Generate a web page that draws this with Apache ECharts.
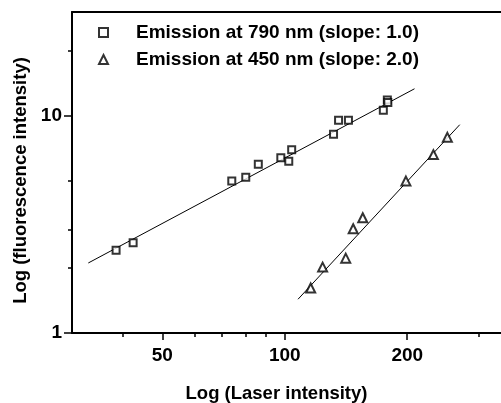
<!DOCTYPE html>
<html>
<head>
<meta charset="utf-8">
<script src="https://cdn.jsdelivr.net/npm/echarts@6/dist/echarts.min.js"></script>
<style>
  html, body { margin: 0; padding: 0; background: #fff; }
  #main { width: 501px; height: 403px; }
</style>
</head>
<body>
<div id="main"></div>
<script>
// Emission at 790 nm (squares) - [laser, fluorescence]
var em790 = [
  [38.5, 2.40], [42.4, 2.60], [74.1, 5.00], [80.2, 5.21], [86.1, 5.98],
  [97.8, 6.40], [102.3, 6.17], [104.0, 6.97], [131.8, 8.21], [135.6, 9.52],
  [143.4, 9.52], [174.7, 10.6], [178.7, 11.8], [179.2, 11.5]
];
// Emission at 450 nm (triangles)
var em450 = [
  [115.8, 1.61], [123.9, 2.01], [141.2, 2.21], [147.3, 3.02], [155.5, 3.39],
  [198.5, 5.00], [231.9, 6.62], [251.0, 7.95]
];
// fitted lines (end points)
var fit790 = [[32.9, 2.10], [208.4, 13.3]];
var fit450 = [[107.8, 1.43], [269.2, 9.09]];

var xMajor = [50, 100, 200];
var xMinor = [40, 60, 70, 80, 90, 300];
var yMajor = [1, 10];
var yMinor = [2, 3, 5, 20];

var font = '"Liberation Sans", Arial, sans-serif';
var black = '#000';

var myChart = echarts.init(document.getElementById('main'));

function xAxisBase(extra) {
  return Object.assign({
    type: 'log',
    logBase: 10,
    min: 30,
    max: 340,
    splitLine: { show: false },
    minorTick: { show: false },
    axisLine: { show: false }
  }, extra);
}
function yAxisBase(extra) {
  return Object.assign({
    type: 'log',
    logBase: 10,
    min: 1,
    max: 30,
    splitLine: { show: false },
    minorTick: { show: false },
    axisLine: { show: false }
  }, extra);
}

myChart.setOption({
  animation: false,
  backgroundColor: '#fff',
  grid: { left: 72, right: 0, top: 12, bottom: 70, containLabel: false, outerBoundsMode: 'none' },
  legend: {
    data: [
      { name: 'Emission at 790 nm (slope: 1.0)', icon: 'rect' },
      { name: 'Emission at 450 nm (slope: 2.0)', icon: 'triangle' }
    ],
    orient: 'vertical',
    left: 93,
    top: 18,
    itemWidth: 9,
    itemHeight: 9,
    itemGap: 8,
    itemStyle: { color: '#fff', borderColor: black, borderWidth: 2 },
    textStyle: { fontFamily: font, fontWeight: 'bold', fontSize: 19, color: black, padding: [0, 0, 0, 23] }
  },
  xAxis: [
    xAxisBase({
      position: 'bottom',
      axisLine: { show: true, lineStyle: { color: black, width: 2 } },
      axisTick: { show: true, length: 7, customValues: xMajor, lineStyle: { color: black, width: 1.5 } },
      axisLabel: { customValues: xMajor, margin: 13, color: black, fontFamily: font, fontWeight: 'bold', fontSize: 19 },
      name: 'Log (Laser intensity)',
      nameLocation: 'middle',
      nameGap: 51,
      nameTextStyle: { fontFamily: font, fontWeight: 'bold', fontSize: 18.5, color: black, padding: [0, 20, 0, 0] }
    }),
    xAxisBase({
      position: 'bottom',
      axisTick: { show: true, length: 4, customValues: xMinor, lineStyle: { color: black, width: 1.5 } },
      axisLabel: { show: false }
    }),
    xAxisBase({
      position: 'top',
      axisLine: { show: true, lineStyle: { color: black, width: 2 } },
      axisTick: { show: false },
      axisLabel: { show: false }
    })
  ],
  yAxis: [
    yAxisBase({
      position: 'left',
      axisLine: { show: true, lineStyle: { color: black, width: 2 } },
      axisTick: { show: true, length: 8, customValues: yMajor, lineStyle: { color: black, width: 1.5 } },
      axisLabel: { customValues: yMajor, margin: 10, color: black, fontFamily: font, fontWeight: 'bold', fontSize: 19 },
      name: 'Log (fluorescence intensity)',
      nameLocation: 'middle',
      nameGap: 42,
      nameTextStyle: { fontFamily: font, fontWeight: 'bold', fontSize: 18.5, color: black, padding: [0, 16, 0, 0] }
    }),
    yAxisBase({
      position: 'left',
      axisTick: { show: true, length: 4, customValues: yMinor, lineStyle: { color: black, width: 1.5 } },
      axisLabel: { show: false }
    })
  ],
  series: [
    {
      name: 'Emission at 790 nm (slope: 1.0)',
      type: 'scatter',
      symbol: 'rect',
      symbolSize: 7,
      itemStyle: { color: '#fff', borderColor: black, borderWidth: 2 },
      data: em790,
      z: 3
    },
    {
      name: 'Emission at 450 nm (slope: 2.0)',
      type: 'scatter',
      symbol: 'triangle',
      symbolSize: 9,
      itemStyle: { color: '#fff', borderColor: black, borderWidth: 2 },
      data: em450,
      z: 3
    },
    {
      name: 'fit790',
      type: 'line',
      showSymbol: false,
      symbol: 'none',
      lineStyle: { color: black, width: 1 },
      data: fit790,
      z: 2
    },
    {
      name: 'fit450',
      type: 'line',
      showSymbol: false,
      symbol: 'none',
      lineStyle: { color: black, width: 1 },
      data: fit450,
      z: 2
    }
  ]
});
</script>
</body>
</html>
